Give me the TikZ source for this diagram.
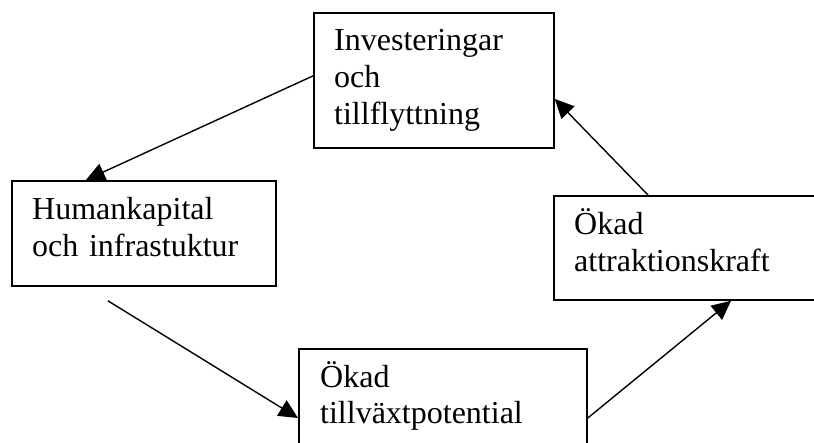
\documentclass[tikz,border=0pt]{standalone}
\usepackage{fontspec}
\setmainfont{Liberation Serif}
\usetikzlibrary{arrows.meta}

\begin{document}
\begin{tikzpicture}[x=1pt,y=1pt]
        \tikzset{box/.style={draw,line width=1.8pt,anchor=north west,inner sep=0pt},
            boxtext/.style={anchor=base west,align=left,inner sep=0pt,text width=#1,
                font=\fontsize{32}{37}\selectfont},
            link/.style={draw,line width=1.4pt,-{Triangle[length=19pt,width=18pt]}}}
        \useasboundingbox (0,0) rectangle (814,442);
        \clip (0,0) rectangle (814,442);
        \node[box,minimum width=240pt,minimum height=135pt] (inv) at (313,430) {};
        \node[box,minimum width=264pt,minimum height=105pt] (hum) at (11,262) {};
        \node[box,minimum width=290pt,minimum height=104pt] (atr) at (553,247) {};
        \node[box,minimum width=288pt,minimum height=112pt] (pot) at (298,94) {};
        \node[boxtext=200pt] (invtext) at ([shift={(21pt,-39pt)}]inv.north west)
                {Investeringar\\och\\tillflyttning};
        \node[boxtext=235pt] (humtext) at ([shift={(21pt,-40pt)}]hum.north west)
                {Humankapital\\och infrastuktur};
        \node[boxtext=250pt] (atrtext) at ([shift={(21pt,-40pt)}]atr.north west)
                {Ökad\\attraktionskraft};
        \node[boxtext=260pt] (pottext) at ([shift={(22pt,-39pt)}]pot.north west)
                {Ökad\\tillväxtpotential};
        \coordinate (humout) at ([shift={(-36pt,-14pt)}]hum.south);
        \draw[link] ([yshift=4.5pt]inv.west) -- ([xshift=-58pt]hum.north);
        \draw[link] (humout) -- ([yshift=-70pt]pot.north west);
        \draw[link] ([yshift=-70pt]pot.north east) -- ([xshift=178pt]atr.south west);
        \draw[link] ([xshift=95pt]atr.north west) -- ([yshift=-87pt]inv.north east);
\end{tikzpicture}
\end{document}
